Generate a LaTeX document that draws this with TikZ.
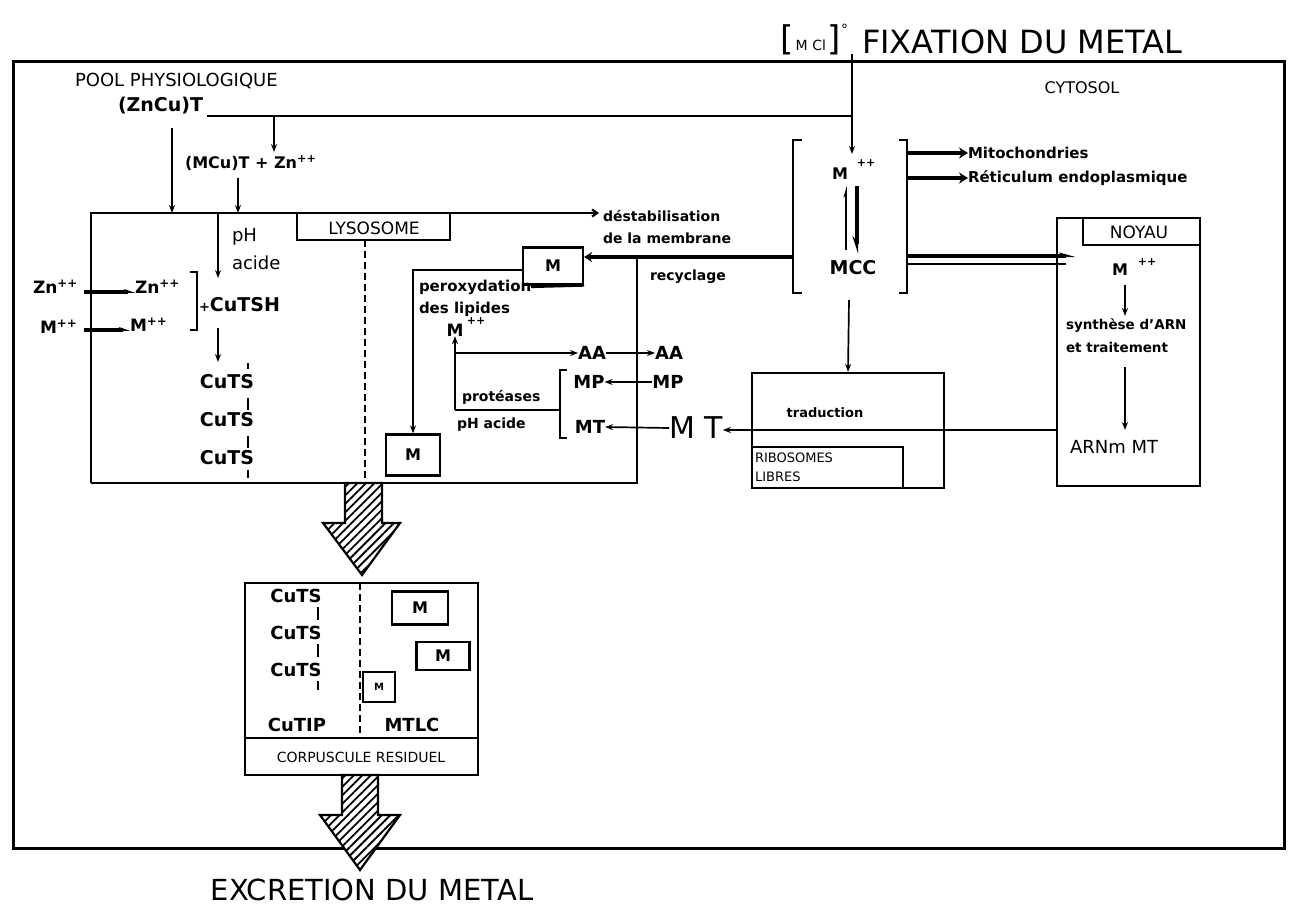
\documentclass[tikz,border=0pt]{standalone}
\usepackage{fontspec}
\setmainfont{DejaVu Sans}
\usetikzlibrary{arrows.meta,patterns.meta}
\newcommand\fsz[1]{\fontsize{#1}{#1}\selectfont}
\begin{document}
\begin{tikzpicture}[x=1pt,y=-1pt,
  txt/.style={inner sep=0pt,outer sep=0pt},
  ln/.style={line width=2.2pt},
  sar/.style={line width=1.7pt,-{Stealth[length=8pt,width=6pt]}},
  thkar/.style={line width=4.5pt,-{Stealth[length=9pt,width=11pt]}},
  mbox/.style={draw,line width=2.2pt,inner sep=0pt,font=\bfseries\fsz{16}},
  hatch/.style={line width=2.2pt,fill=white,postaction={pattern={Lines[angle=45,distance=6pt,line width=1.8pt]}}}]
\useasboundingbox (0,0) rectangle (1293,917);
% cytosol border
\draw[line width=3pt] (13,62) rectangle (1284,848);
% ---- top labels
\node[txt,anchor=east] (mcl) at (848,40) {{\fsz{34}[}\,{\fsz{14}M\,\,Cl}\,{\fsz{34}]}\raisebox{16pt}{\fsz{14}°}};
\node[txt,anchor=west,font=\fsz{32}] (fix) at (862,42) {FIXATION DU METAL};
\node[txt,anchor=west,font=\fsz{18}] (pool) at (75,81) {POOL PHYSIOLOGIQUE};
\node[txt,font=\fsz{16}] (cyto) at (1082,88) {CYTOSOL};
\node[txt,anchor=west,font=\bfseries\fsz{19}] (zncu) at (118,106) {(ZnCu)T};
\node[txt,anchor=west,font=\bfseries\fsz{16}] (mcut) at (185,163) {(MCu)T + Zn\textsuperscript{++}};
\coordinate (mtop) at (852,54);
\coordinate (j1) at (852,116);
\coordinate (hstart) at (207,116);
\coordinate (a274) at (274,116);
\coordinate (a274e) at (274,152);
\draw[ln] (hstart) -- (j1);
\draw[ln] (mtop) -- (j1);
\draw[sar] (a274) -- (a274e);
% ---- MCC
\node[txt,font=\bfseries\fsz{16}] (mccm) at (840,174) {M};
\node[txt,font=\bfseries\fsz{11}] (mccsup) at (866,163) {++};
\coordinate (mccin) at (852,154);
\draw[sar] (j1) -- (mccin);
\node[txt,font=\bfseries\fsz{19}] (mcc) at (853,268) {MCC};
\draw[ln] (802,140) -- (793,140) -- (793,293) -- (802,293);
\draw[ln] (899,140) -- (907,140) -- (907,293) -- (899,293);
\coordinate (mccL) at (793,257);
\coordinate (mccR1) at (907,256);
\coordinate (mccR2) at (907,264);
\coordinate (mccB) at (849,300);
\draw[line width=1.5pt,-{Stealth[harpoon,length=9pt,width=5pt]}] (846,250) -- (846,186);
\draw[line width=3.5pt,-{Stealth[harpoon,swap,length=14pt,width=9pt]}] (857,186) -- (857,254);
% mitochondries
\node[txt,anchor=west,font=\bfseries\fsz{15}] (mito) at (968,153) {Mitochondries};
\node[txt,anchor=west,font=\bfseries\fsz{15}] (reti) at (968,178) {Réticulum endoplasmique};
\coordinate (mi1) at (907,153);
\coordinate (mi2) at (907,178);
\draw[thkar] (mi1) -- (mito.west);
\draw[thkar] (mi2) -- (reti.west);
% ---- NOYAU
\node[draw,line width=2.2pt,minimum width=143pt,minimum height=268pt,inner sep=0pt] (noy) at (1128.5,352) {};
\draw[ln] (1083,218) -- (1083,245) -- (1200,245);
\node[txt,font=\fsz{17}] (noyl) at (1139,232) {NOYAU};
\node[txt,font=\bfseries\fsz{16}] (mn) at (1120,270) {M};
\node[txt,font=\bfseries\fsz{11}] (mnsup) at (1147,262) {++};
\node[txt,anchor=north west,align=left,font=\bfseries\fontsize{13.5}{23}\selectfont] (syn) at (1066,319) {synthèse d'ARN\\et traitement};
\node[txt,anchor=west,font=\fsz{18}] (arnm) at (1070,447) {ARNm MT};
\coordinate (n1) at (1125,285);
\coordinate (n2) at (1125,316);
\coordinate (n3) at (1125,367);
\coordinate (n4) at (1125,430);
\draw[sar] (n1) -- (n2);
\draw[sar] (n3) -- (n4);
\coordinate (noyin1) at (1076,256);
\coordinate (noyin2) at (1066,264);
\draw[line width=3.2pt,-{Stealth[harpoon,length=13pt,width=7pt]}] (mccR1) -- (noyin1);
\draw[line width=1.6pt] (mccR2) -- (noyin2);
% ---- ribosomes
\node[draw,line width=2.2pt,minimum width=192pt,minimum height=115pt,inner sep=0pt] (ribo) at (848,430.5) {};
\node[draw,line width=2pt,minimum width=151pt,minimum height=41pt,inner sep=0pt] (ribl) at (827.5,467.5) {};
\node[txt,anchor=west,align=left,font=\fontsize{13}{19}\selectfont] (riblt) at (755,467) {RIBOSOMES\\LIBRES};
\node[txt,font=\bfseries\fsz{13}] (trad) at (825,413) {traduction};
\draw[sar] (mccB) -- (ribo.north);
% ---- lysosome
\coordinate (lysBL) at (91,483);
\coordinate (lysTL) at (91,213);
\coordinate (lysTE) at (599,213);
\coordinate (lysBR) at (637,483);
\coordinate (lysTR) at (637,257);
\draw[ln,-{Straight Barb[length=5pt,width=7pt]}] (lysBL) -- (lysTL) -- (lysTE);
\draw[ln] (lysBL) -- (lysBR) -- (lysTR);
\draw[ln] (297,213) -- (297,240) -- (450,240) -- (450,213);
\node[txt,font=\fsz{17}] (lyso) at (374,228) {LYSOSOME};
\draw[ln,dash pattern=on 7pt off 4pt] (365,240) -- (365,483);
\node[txt,anchor=north west,align=left,font=\bfseries\fontsize{14}{22}\selectfont] (dest) at (603,210) {déstabilisation\\de la membrane};
\node[txt,anchor=west,font=\bfseries\fsz{14}] (recy) at (650,277) {recyclage};
% arrows into lysosome
\coordinate (a172s) at (172,128);
\coordinate (a172e) at (172,213);
\coordinate (a238s) at (238,178);
\coordinate (a238e) at (238,213);
\draw[sar] (a172s) -- (a172e);
\draw[sar] (a238s) -- (a238e);
% left part
\node[txt,anchor=west,font=\bfseries\fsz{17}] (zn1) at (33,287) {Zn\textsuperscript{++}};
\node[txt,anchor=west,font=\bfseries\fsz{17}] (ml) at (40,327) {M\textsuperscript{++}};
\node[txt,anchor=west,font=\bfseries\fsz{17}] (zn2) at (135,287) {Zn\textsuperscript{++}};
\node[txt,anchor=west,font=\bfseries\fsz{17}] (mr) at (130,325) {M\textsuperscript{++}};
\draw[line width=4pt,-{Stealth[harpoon,length=9pt,width=6pt]}] (84,292) -- (zn2.west |- 84,292);
\draw[line width=4pt,-{Stealth[harpoon,length=9pt,width=6pt]}] (84,330) -- (mr.west |- 84,330);
\draw[ln] (190,272) -- (197,272) -- (197,330) -- (190,330);
\node[txt,anchor=west,font=\bfseries\fsz{19}] (cutsh) at (199,305) {{\fsz{13}+}CuTSH};
\node[txt,anchor=west,font=\fsz{18}] (ph) at (232,237) {pH};
\node[txt,anchor=west,font=\fsz{18}] (acide) at (232,263) {acide};
\coordinate (p1) at (218,213);
\coordinate (p2) at (218,278);
\coordinate (p3) at (218,328);
\coordinate (p4) at (218,362);
\draw[sar] (p1) -- (p2);
\draw[sar] (p3) -- (p4);
\node[txt,font=\bfseries\fsz{19}] (cuts1) at (227,382) {CuTS};
\node[txt,font=\bfseries\fsz{19}] (cuts2) at (227,420) {CuTS};
\node[txt,font=\bfseries\fsz{19}] (cuts3) at (227,458) {CuTS};
\draw[line width=1.7pt] (248,363) -- (248,369) (248,398) -- (248,410) (248,436) -- (248,448) (248,470) -- (248,478);
% right part of lysosome
\node[mbox,minimum width=60pt,minimum height=37pt] (mb1) at (553,266) {M};
\node[mbox,minimum width=54pt,minimum height=41pt] (mb2) at (413,455) {M};
\coordinate (px1) at (523,270);
\coordinate (px2) at (413,270);
\draw[sar] (px1) -- (px2) -- (mb2.north);
\node[txt,anchor=west,font=\bfseries\fsz{15}] (perox) at (419,287) {peroxydation};
\node[txt,anchor=west,font=\bfseries\fsz{15}] (lip) at (419,309) {des lipides};
\draw[ln] (perox.east) -- (mb1.south east);
\draw[line width=4.5pt,-{Stealth[length=8pt,width=10pt]}] (mccL) -- (mb1.east |- mccL);
\node[txt,font=\bfseries\fsz{17}] (mlip) at (455,330) {M};
\node[txt,font=\bfseries\fsz{11}] (mlipsup) at (476,321) {++};
\coordinate (q1) at (455,410);
\coordinate (q2) at (455,353);
\coordinate (q3) at (560,410);
\node[txt,font=\bfseries\fsz{18}] (aa1) at (592,353) {AA};
\node[txt,font=\bfseries\fsz{18}] (aa2) at (669,353) {AA};
\node[txt,font=\bfseries\fsz{18}] (mp1) at (589,382) {MP};
\node[txt,font=\bfseries\fsz{18}] (mp2) at (668,382) {MP};
\node[txt,font=\bfseries\fsz{18}] (mt1) at (590,427) {MT};
\node[txt,font=\fsz{30}] (mtb) at (696,428) {M T};
\draw[sar] (q1) -- (mlip.south);
\draw[sar] (q2) -- (aa1.west);
\draw[ln] (q1) -- (q3);
\draw[ln] (567,370) -- (560,370) -- (560,438) -- (567,438);
\draw[sar] (aa1.east) -- (aa2.west);
\draw[sar] (mp2.west) -- (mp1.east);
\draw[sar] (mtb.west) -- (mt1.east);
\node[txt,anchor=west,font=\bfseries\fsz{14}] (prot) at (462,397) {protéases};
\node[txt,anchor=west,font=\bfseries\fsz{14}] (phac) at (457,425) {pH acide};
\coordinate (mtn) at (1057,430);
\draw[sar] (mtn) -- (mtb.east |- mtn);
% ---- hatched arrow 1
\draw[hatch] (345,483) -- (382,483) -- (382,523) -- (400,523) -- (362,575) -- (323,523) -- (345,523) -- cycle;
% ---- residual body
\node[draw,line width=2.2pt,minimum width=233pt,minimum height=192pt,inner sep=0pt] (res) at (361.5,679) {};
\draw[ln] (245,738) -- (478,738);
\draw[ln,dash pattern=on 7pt off 4pt] (360,583) -- (360,738);
\node[txt,font=\bfseries\fsz{18}] (rc1) at (296,596) {CuTS};
\node[txt,font=\bfseries\fsz{18}] (rc2) at (296,633) {CuTS};
\node[txt,font=\bfseries\fsz{18}] (rc3) at (296,670) {CuTS};
\draw[line width=1.7pt] (318,607) -- (318,620) (318,644) -- (318,657) (318,681) -- (318,690);
\node[txt,font=\bfseries\fsz{18}] (cutip) at (297,725) {CuTIP};
\node[txt,font=\bfseries\fsz{18}] (mtlc) at (412,725) {MTLC};
\node[txt,font=\fsz{14}] (corp) at (361,757) {CORPUSCULE RESIDUEL};
\node[mbox,minimum width=56pt,minimum height=33pt] (rm1) at (420,608) {M};
\node[mbox,minimum width=53pt,minimum height=28pt] (rm2) at (443,656) {M};
\node[mbox,minimum width=32pt,minimum height=30pt,font=\bfseries\fsz{10}] (rm3) at (379,687) {M};
% ---- hatched arrow 2
\draw[hatch] (342,775) -- (378,775) -- (378,815) -- (400,815) -- (360,870) -- (320,815) -- (342,815) -- cycle;
\node[txt,font=\fsz{29}] (excr) at (372,890) {EXCRETION DU METAL};
\end{tikzpicture}
\end{document}
